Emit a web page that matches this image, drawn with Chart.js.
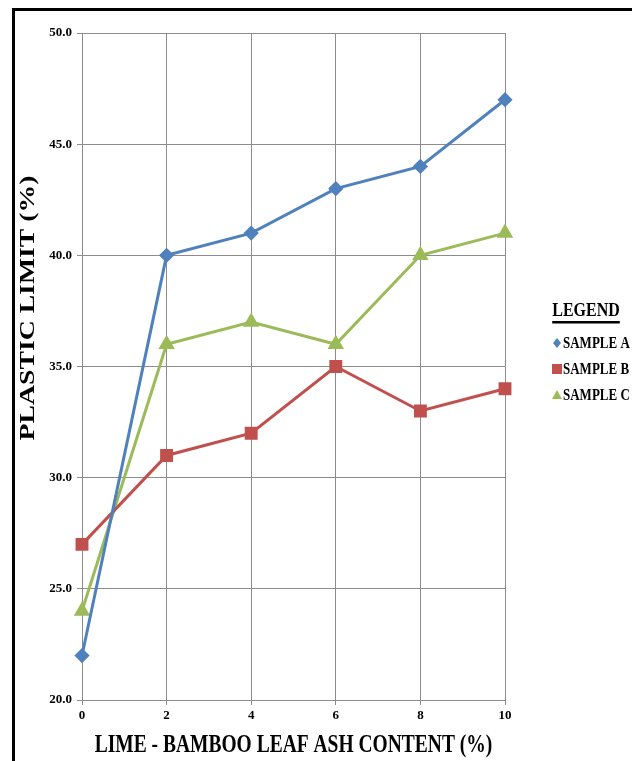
<!DOCTYPE html>
<html lang="en">
<head>
    <meta charset="UTF-8">
    <title>Plastic Limit</title>
    <style>
        body {
            margin: 0;
            background-color: white;
        }
        .wrap {
            position: relative;
            width: 632px;
            height: 761px;
        }
        .frame {
            position: absolute;
            left: 12px;
            top: 8px;
            right: -10px;
            bottom: -10px;
            border-left: 3px solid #000;
            border-top: 3px solid #000;
            pointer-events: none;
        }
    </style>
</head>
<body>
    <div class="wrap">
        <canvas id="chart" width="632" height="761"></canvas>
        <div class="frame"></div>
    </div>

    <script src="https://cdn.jsdelivr.net/npm/chart.js"></script>
    <script>
        // values
        const xValues = [0, 2, 4, 6, 8, 10];
        const sampleA = [22, 40, 41, 43, 44, 47];
        const sampleB = [27, 31, 32, 35, 33, 34];
        const sampleC = [24, 36, 37, 36, 40, 41];
        const seriesNames = ['SAMPLE A', 'SAMPLE B', 'SAMPLE C'];
        const xTitle = 'LIME - BAMBOO LEAF ASH CONTENT (%)';
        const yTitle = 'PLASTIC LIMIT (%)';
        const legendTitle = 'LEGEND';

        const serif = '"Liberation Serif", "Times New Roman", serif';

        function points(ys) {
            return xValues.map((x, i) => ({ x: x, y: ys[i] }));
        }

        // text stretched vertically, like the source image
        function tallText(ctx, text, x, y, sy) {
            ctx.save();
            ctx.translate(x, y);
            ctx.scale(1, sy);
            ctx.fillText(text, 0, 0);
            ctx.restore();
        }

        // axis titles and the legend are drawn by hand
        const decorations = {
            id: 'decorations',
            afterDraw(chart) {
                const ctx = chart.ctx;
                const area = chart.chartArea;
                ctx.save();
                ctx.fillStyle = '#000';
                ctx.font = 'bold 19.5px ' + serif;
                ctx.textAlign = 'center';
                ctx.textBaseline = 'middle';
                tallText(ctx, xTitle, (area.left + area.right) / 2, 745, 1.3);

                ctx.save();
                ctx.translate(28, 308);
                ctx.rotate(-Math.PI / 2);
                ctx.scale(1.26, 1);
                ctx.font = 'bold 22px ' + serif;
                ctx.fillText(yTitle, 0, 0);
                ctx.restore();

                // legend
                ctx.font = 'bold 16px ' + serif;
                tallText(ctx, legendTitle, 586, 311, 1.2);
                const w = ctx.measureText(legendTitle).width;
                ctx.fillRect(586 - w / 2, 321, w, 2.5);

                ctx.font = 'bold 13px ' + serif;
                ctx.textAlign = 'left';
                chart.data.datasets.forEach((ds, i) => {
                    const y = 343 + i * 26;
                    ctx.fillStyle = ds.borderColor;
                    if (ds.pointStyle === 'rectRot') {
                        ctx.beginPath();
                        ctx.moveTo(557, y - 5);
                        ctx.lineTo(561, y);
                        ctx.lineTo(557, y + 5);
                        ctx.lineTo(553, y);
                        ctx.closePath();
                        ctx.fill();
                    } else if (ds.pointStyle === 'rect') {
                        ctx.fillRect(552, y - 5, 10, 10);
                    } else {
                        ctx.beginPath();
                        ctx.moveTo(557, y - 5);
                        ctx.lineTo(562, y + 4);
                        ctx.lineTo(552, y + 4);
                        ctx.closePath();
                        ctx.fill();
                    }
                    ctx.fillStyle = '#000';
                    tallText(ctx, ds.label, 563, y + 1, 1.25);
                });
                ctx.restore();
            }
        };

        new Chart(document.getElementById('chart'), {
            type: 'line',
            data: {
                datasets: [
                    {
                        label: seriesNames[0],
                        data: points(sampleA),
                        borderColor: '#4F81BD',
                        backgroundColor: '#4F81BD',
                        pointStyle: 'rectRot',
                        pointRadius: 5.5,
                        borderWidth: 3,
                        clip: false
                    },
                    {
                        label: seriesNames[1],
                        data: points(sampleB),
                        borderColor: '#C0504D',
                        backgroundColor: '#C0504D',
                        pointStyle: 'rect',
                        pointRadius: 7,
                        borderWidth: 3,
                        clip: false
                    },
                    {
                        label: seriesNames[2],
                        data: points(sampleC),
                        borderColor: '#9BBB59',
                        backgroundColor: '#9BBB59',
                        pointStyle: 'triangle',
                        pointRadius: 6.5,
                        borderWidth: 3,
                        clip: false
                    }
                ]
            },
            options: {
                responsive: false,
                animation: false,
                layout: {
                    padding: { left: 20, top: 33, right: 127, bottom: 0 }
                },
                plugins: {
                    legend: { display: false },
                    tooltip: { enabled: false }
                },
                scales: {
                    x: {
                        type: 'linear',
                        min: 0,
                        max: 10,
                        ticks: {
                            stepSize: 2,
                            color: '#000',
                            padding: 3,
                            font: { family: serif, size: 13, weight: 'bold' }
                        },
                        grid: { color: '#8c8c8c', tickLength: 5, lineWidth: 1 },
                        border: { color: '#8c8c8c' },
                        afterFit(scale) { scale.height = 61; }
                    },
                    y: {
                        min: 20,
                        max: 50,
                        ticks: {
                            stepSize: 5,
                            color: '#000',
                            padding: 5,
                            font: { family: serif, size: 13, weight: 'bold' },
                            callback: (v) => v.toFixed(1)
                        },
                        grid: { color: '#8c8c8c', tickLength: 5, lineWidth: 1 },
                        border: { color: '#8c8c8c' },
                        afterFit(scale) { scale.width = 62; }
                    }
                }
            },
            plugins: [decorations]
        });
    </script>
</body>
</html>
